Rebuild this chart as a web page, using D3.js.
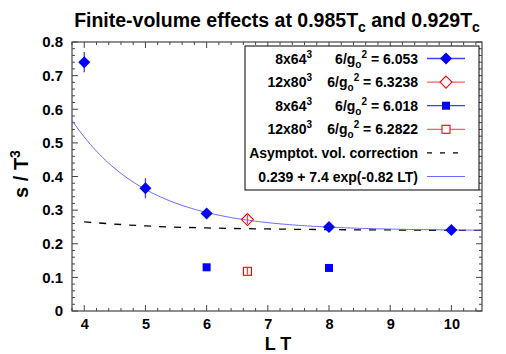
<!DOCTYPE html>
<html><head><meta charset="utf-8">
<script src="https://cdn.jsdelivr.net/npm/d3@7"></script>
<style>body{margin:0;background:#fff}svg{display:block}text{font-family:"Liberation Sans",Arial,sans-serif;font-weight:bold;fill:#000}</style>
</head><body><svg id="c" width="506" height="354"></svg>
<script>
// Data
const diamondBlueX = [4, 5, 6, 8, 10];
const diamondBlueY = [0.74, 0.365, 0.29, 0.25, 0.241];
const diamondBlueErr = [0.03, 0.03, 0.01, 0.008, 0.006];
const diamondRedX = [6.667];
const diamondRedY = [0.272];
const diamondRedErr = [0.013];
const squareBlueX = [6, 8];
const squareBlueY = [0.13, 0.128];
const squareBlueErr = [0.004, 0.004];
const squareRedX = [6.667];
const squareRedY = [0.118];
const squareRedErr = [0.01];
const asymX = [4, 5, 6, 7, 8, 9, 10, 10.5];
const asymY = [0.265, 0.253, 0.247, 0.244, 0.242, 0.241, 0.240, 0.240];
const fitParams = [0.239, 7.4, -0.82];
const xTicks = [4, 5, 6, 7, 8, 9, 10];
const yTicks = [0, 0.1, 0.2, 0.3, 0.4, 0.5, 0.6, 0.7, 0.8];

const svg = d3.select("#c");
const L = 72, R = 482, T = 42, B = 311;
const x = d3.scaleLinear().domain([3.8, 10.5]).range([L, R]);
const y = d3.scaleLinear().domain([0, 0.8]).range([B, T]);
const frame = "#444";

// minor ticks
const xMinor = d3.range(3.8, 10.5001, 0.2).map(v => +v.toFixed(2));
const yMinor = d3.range(0, 0.8001, 0.02).map(v => +v.toFixed(3));
const g = svg.append("g");
xMinor.forEach(v => {
  const maj = Math.abs(v - Math.round(v)) < 1e-6;
  const len = maj ? 6 : 3;
  g.append("line").attr("x1", x(v)).attr("x2", x(v)).attr("y1", B).attr("y2", B - len).attr("stroke", frame);
  g.append("line").attr("x1", x(v)).attr("x2", x(v)).attr("y1", T).attr("y2", T + len).attr("stroke", frame);
});
yMinor.forEach(v => {
  const maj = Math.abs(v * 10 - Math.round(v * 10)) < 1e-6;
  const len = maj ? 6 : 3;
  g.append("line").attr("y1", y(v)).attr("y2", y(v)).attr("x1", L).attr("x2", L + len).attr("stroke", frame);
  g.append("line").attr("y1", y(v)).attr("y2", y(v)).attr("x1", R).attr("x2", R - len).attr("stroke", frame);
});
svg.append("rect").attr("x", L).attr("y", T).attr("width", R - L).attr("height", B - T)
  .attr("fill", "none").attr("stroke", frame).attr("stroke-width", 1.2);

// tick labels via axes
const xa = svg.append("g").attr("transform", `translate(0,${B})`)
  .call(d3.axisBottom(x).tickValues(xTicks).tickSize(0).tickPadding(8).tickFormat(d3.format("d")));
xa.select(".domain").remove();
xa.selectAll("text").style("font-size", "14.5px").style("font-family", "Liberation Sans,Arial").style("font-weight", "bold");
const ya = svg.append("g").attr("transform", `translate(${L},0)`)
  .call(d3.axisLeft(y).tickValues(yTicks).tickSize(0).tickPadding(9).tickFormat(d => d === 0 ? "0" : d3.format(".1f")(d)));
ya.select(".domain").remove();
ya.selectAll("text").style("font-size", "15px").style("font-family", "Liberation Sans,Arial").style("font-weight", "bold");

// title
const title = svg.append("text").attr("x", 277).attr("y", 27).attr("text-anchor", "middle").style("font-size", "19.5px");
title.append("tspan").text("Finite-volume effects at 0.985T");
title.append("tspan").attr("dy", 5).style("font-size", "14px").text("c");
title.append("tspan").attr("dy", -5).text(" and 0.929T");
title.append("tspan").attr("dy", 5).style("font-size", "14px").text("c");

// axis labels
svg.append("text").attr("x", 278).attr("y", 350).attr("text-anchor", "middle").style("font-size", "18px").text("L T");
const yl = svg.append("text").attr("transform", "translate(28,174) rotate(-90)").attr("text-anchor", "middle").style("font-size", "20px");
yl.append("tspan").text("s / T");
yl.append("tspan").attr("dy", -8).style("font-size", "14px").text("3");

// clip
svg.append("clipPath").attr("id", "clip").append("rect").attr("x", L).attr("y", T).attr("width", R - L).attr("height", B - T);
const plot = svg.append("g").attr("clip-path", "url(#clip)");

// asymptotic dashed
plot.append("path").datum(asymX.map((v, i) => [v, asymY[i]]))
  .attr("d", d3.line().x(d => x(d[0])).y(d => y(d[1])).curve(d3.curveMonotoneX))
  .attr("fill", "none").attr("stroke", "#000").attr("stroke-width", 1.3).attr("stroke-dasharray", "7,8");

// fit curve
const fitX = d3.range(3.8, 10.51, 0.05);
plot.append("path").datum(fitX.map(v => [v, fitParams[0] + fitParams[1] * Math.exp(fitParams[2] * v)]))
  .attr("d", d3.line().x(d => x(d[0])).y(d => y(d[1])))
  .attr("fill", "none").attr("stroke", "#6a6aff").attr("stroke-width", 1);

function errbars(xs, ys, es, color) {
  xs.forEach((v, i) => {
    plot.append("line").attr("x1", x(v)).attr("x2", x(v)).attr("y1", y(ys[i] - es[i])).attr("y2", y(ys[i] + es[i]))
      .attr("stroke", color).attr("stroke-width", 1.3);
  });
}
const diamondPath = (cx, cy, r) => `M${cx},${cy - r}L${cx + r},${cy}L${cx},${cy + r}L${cx - r},${cy}Z`;

errbars(diamondBlueX, diamondBlueY, diamondBlueErr, "#4040ff");
diamondBlueX.forEach((v, i) => plot.append("path").attr("d", diamondPath(x(v), y(diamondBlueY[i]), 6)).attr("fill", "#0000ff"));
errbars(diamondRedX, diamondRedY, diamondRedErr, "#ff4040");
diamondRedX.forEach((v, i) => plot.append("path").attr("d", diamondPath(x(v), y(diamondRedY[i]), 6)).attr("fill", "none").attr("stroke", "#ff0000").attr("stroke-width", 1.1));
errbars(squareBlueX, squareBlueY, squareBlueErr, "#4040ff");
squareBlueX.forEach((v, i) => plot.append("rect").attr("x", x(v) - 4).attr("y", y(squareBlueY[i]) - 4).attr("width", 8).attr("height", 8).attr("fill", "#0000ff"));
errbars(squareRedX, squareRedY, squareRedErr, "#ff4040");
squareRedX.forEach((v, i) => plot.append("rect").attr("x", x(v) - 4).attr("y", y(squareRedY[i]) - 4).attr("width", 8).attr("height", 8).attr("fill", "none").attr("stroke", "#ff0000").attr("stroke-width", 1.1));

// legend
const leg = svg.append("g");
leg.append("rect").attr("x", 245).attr("y", 46).attr("width", 234).attr("height", 144).attr("fill", "#fff").attr("stroke", "#000").attr("stroke-width", 1);
const legLatt = ["8x64", "12x80", "8x64", "12x80"];
const legBeta = ["6.053", "6.3238", "6.018", "6.2822"];
const rowY = i => 63.5 + i * 23.6;
legLatt.forEach((lat, i) => {
  const t1 = leg.append("text").attr("x", 312).attr("y", rowY(i)).attr("text-anchor", "end").style("font-size", "14px");
  t1.append("tspan").text(lat);
  t1.append("tspan").attr("dy", -6).style("font-size", "10px").text("3");
  const t2 = leg.append("text").attr("x", 418).attr("y", rowY(i)).attr("text-anchor", "end").style("font-size", "14px");
  t2.append("tspan").text("6/g");
  t2.append("tspan").attr("dy", 4).style("font-size", "10px").text("o");
  t2.append("tspan").attr("dy", -10).style("font-size", "10px").text("2");
  t2.append("tspan").attr("dy", 6).text(" = " + legBeta[i]);
});
leg.append("text").attr("x", 418).attr("y", rowY(4)).attr("text-anchor", "end").style("font-size", "14px").text("Asymptot. vol. correction");
leg.append("text").attr("x", 418).attr("y", rowY(5)).attr("text-anchor", "end").style("font-size", "14px").text("0.239 + 7.4 exp(-0.82 LT)");
const sx1 = 427, sx2 = 465, scx = 446;
[0, 1, 2, 3].forEach(i => {
  const cy = rowY(i) - 5;
  leg.append("line").attr("x1", sx1).attr("x2", sx2).attr("y1", cy).attr("y2", cy).attr("stroke", i % 2 ? "#ff6060" : "#4040ff").attr("stroke-width", 1.3);
});
leg.append("path").attr("d", diamondPath(scx, rowY(0) - 5, 6)).attr("fill", "#0000ff");
leg.append("path").attr("d", diamondPath(scx, rowY(1) - 5, 6)).attr("fill", "#fff").attr("stroke", "#ff0000").attr("stroke-width", 1.1);
leg.append("rect").attr("x", scx - 4).attr("y", rowY(2) - 9).attr("width", 8).attr("height", 8).attr("fill", "#0000ff");
leg.append("rect").attr("x", scx - 4).attr("y", rowY(3) - 9).attr("width", 8).attr("height", 8).attr("fill", "#fff").attr("stroke", "#ff0000").attr("stroke-width", 1.1);
leg.append("line").attr("x1", sx1).attr("x2", sx2).attr("y1", rowY(4) - 5).attr("y2", rowY(4) - 5).attr("stroke", "#000").attr("stroke-width", 1.3).attr("stroke-dasharray", "5,8");
leg.append("line").attr("x1", sx1).attr("x2", sx2).attr("y1", rowY(5) - 5).attr("y2", rowY(5) - 5).attr("stroke", "#6a6aff").attr("stroke-width", 1);
</script></body></html>
